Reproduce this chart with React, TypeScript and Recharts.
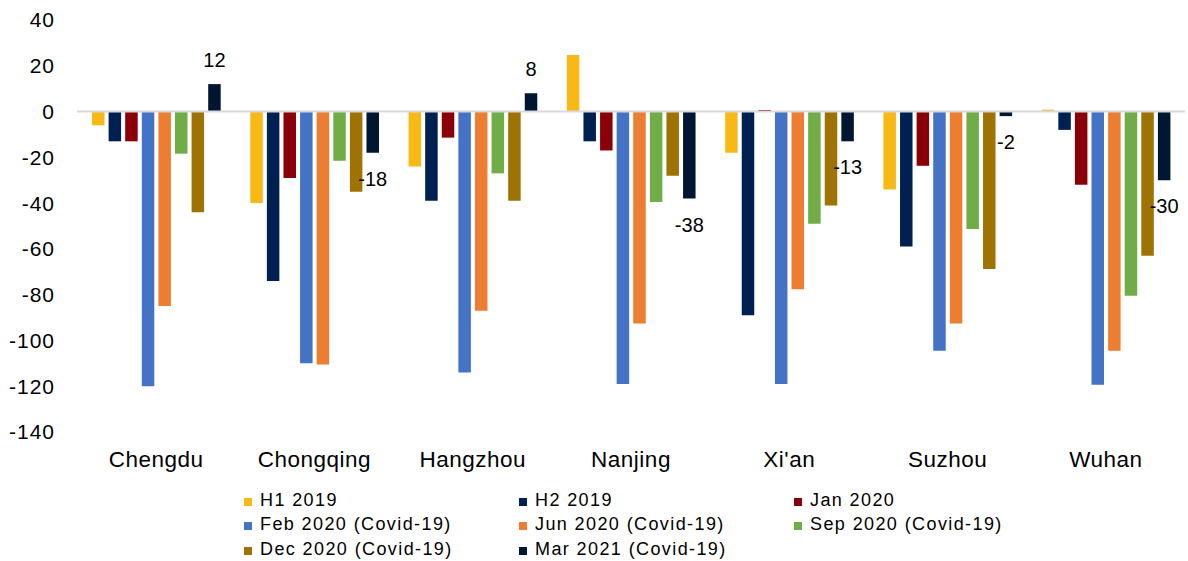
import { BarChart, Bar, XAxis, YAxis, ReferenceLine, LabelList } from 'recharts'

const cities = ['Chengdu', 'Chongqing', 'Hangzhou', 'Nanjing', "Xi'an", 'Suzhou', 'Wuhan']

const h1_2019 = [-6, -40, -24, 24.7, -18, -34, 0.8]
const h2_2019 = [-13, -74, -39, -13, -89, -59, -8]
const jan2020 = [-13, -29, -11.4, -17, 0.7, -23.7, -32]
const feb2020 = [-120, -110, -114, -119, -119, -104.5, -119.4]
const jun2020 = [-85, -110.5, -87, -92.6, -77.6, -92.6, -104.5]
const sep2020 = [-18.4, -21.5, -27, -39.5, -49, -51.3, -80.5]
const dec2020 = [-44, -35, -39, -28, -41, -68.8, -63]
const mar2021 = [12, -18, 8, -38, -13, -2, -30]

const yTicks = [40, 20, 0, -20, -40, -60, -80, -100, -120, -140]

const series = [
  { key: 'h1', name: 'H1 2019', color: '#F9B915', values: h1_2019 },
  { key: 'h2', name: 'H2 2019', color: '#002052', values: h2_2019 },
  { key: 'jan', name: 'Jan 2020', color: '#8B0008', values: jan2020 },
  { key: 'feb', name: 'Feb 2020 (Covid-19)', color: '#4472C4', values: feb2020 },
  { key: 'jun', name: 'Jun 2020 (Covid-19)', color: '#ED7D31', values: jun2020 },
  { key: 'sep', name: 'Sep 2020 (Covid-19)', color: '#70AD47', values: sep2020 },
  { key: 'dec', name: 'Dec 2020 (Covid-19)', color: '#9F7303', values: dec2020 },
  { key: 'mar', name: 'Mar 2021 (Covid-19)', color: '#001631', values: mar2021 },
]

const data = cities.map((city, i) => {
  const row: Record<string, string | number> = { city }
  series.forEach((s) => { row[s.key] = s.values[i] })
  return row
})

const FONT = '"Liberation Sans", Arial, sans-serif'

// value label sitting just past the end of the bar, above or below depending on sign
function EndLabel(props: any) {
  const { x, y, width, height, value } = props
  const v = Number(value)
  const cx = Number(x) + Number(width) / 2
  const top = Math.min(Number(y), Number(y) + Number(height))
  const bottom = Math.max(Number(y), Number(y) + Number(height))
  const ty = v >= 0 ? top - 24 : bottom + 26
  return (
    <text x={cx} y={ty} textAnchor="middle" dominantBaseline="central"
      fontFamily={FONT} fontSize={20} fill="#000">
      {v}
    </text>
  )
}

function LegendBlock() {
  return (
    <div style={{ position: 'absolute', left: 244, top: 488, width: 830, fontFamily: FONT }}>
      {series.map((s, i) => (
        <div key={s.key} style={{
          position: 'absolute',
          left: (i % 3) * 275,
          top: Math.floor(i / 3) * 24.5,
          height: 24,
          display: 'flex',
          alignItems: 'center',
          whiteSpace: 'nowrap',
          fontSize: 18,
          letterSpacing: 1.4,
          color: '#000',
        }}>
          <span style={{ width: 8, height: 8, background: s.color, marginRight: 8, marginTop: 3 }} />
          {s.name}
        </div>
      ))}
    </div>
  )
}

export default function App() {
  return (
    <div style={{ position: 'absolute', left: 0, top: 0, width: 1188, height: 561, background: '#fff' }}>
      <BarChart
        width={1188}
        height={561}
        data={data}
        margin={{ top: 20, right: 3, bottom: 89, left: 0 }}
        barSize={12.5}
        barGap={4.1}
      >
        <YAxis
          type="number"
          domain={[-140, 40]}
          ticks={yTicks}
          interval={0}
          width={77}
          axisLine={false}
          tickLine={false}
          tickSize={0}
          tickMargin={22}
          tick={{ fontFamily: FONT, fontSize: 21, fill: '#000', letterSpacing: 1 }}
        />
        <XAxis
          dataKey="city"
          height={40}
          axisLine={false}
          tickLine={false}
          tickSize={0}
          tickMargin={19}
          interval={0}
          tick={{ fontFamily: FONT, fontSize: 22.5, fill: '#000', letterSpacing: 0.5 }}
        />
        <ReferenceLine y={0} stroke="#D9D9D9" strokeWidth={2} />
        {series.map((s) => (
          <Bar key={s.key} dataKey={s.key} name={s.name} fill={s.color} isAnimationActive={false}>
            {s.key === 'mar' && <LabelList dataKey="mar" content={<EndLabel />} />}
          </Bar>
        ))}
      </BarChart>
      <LegendBlock />
    </div>
  )
}
